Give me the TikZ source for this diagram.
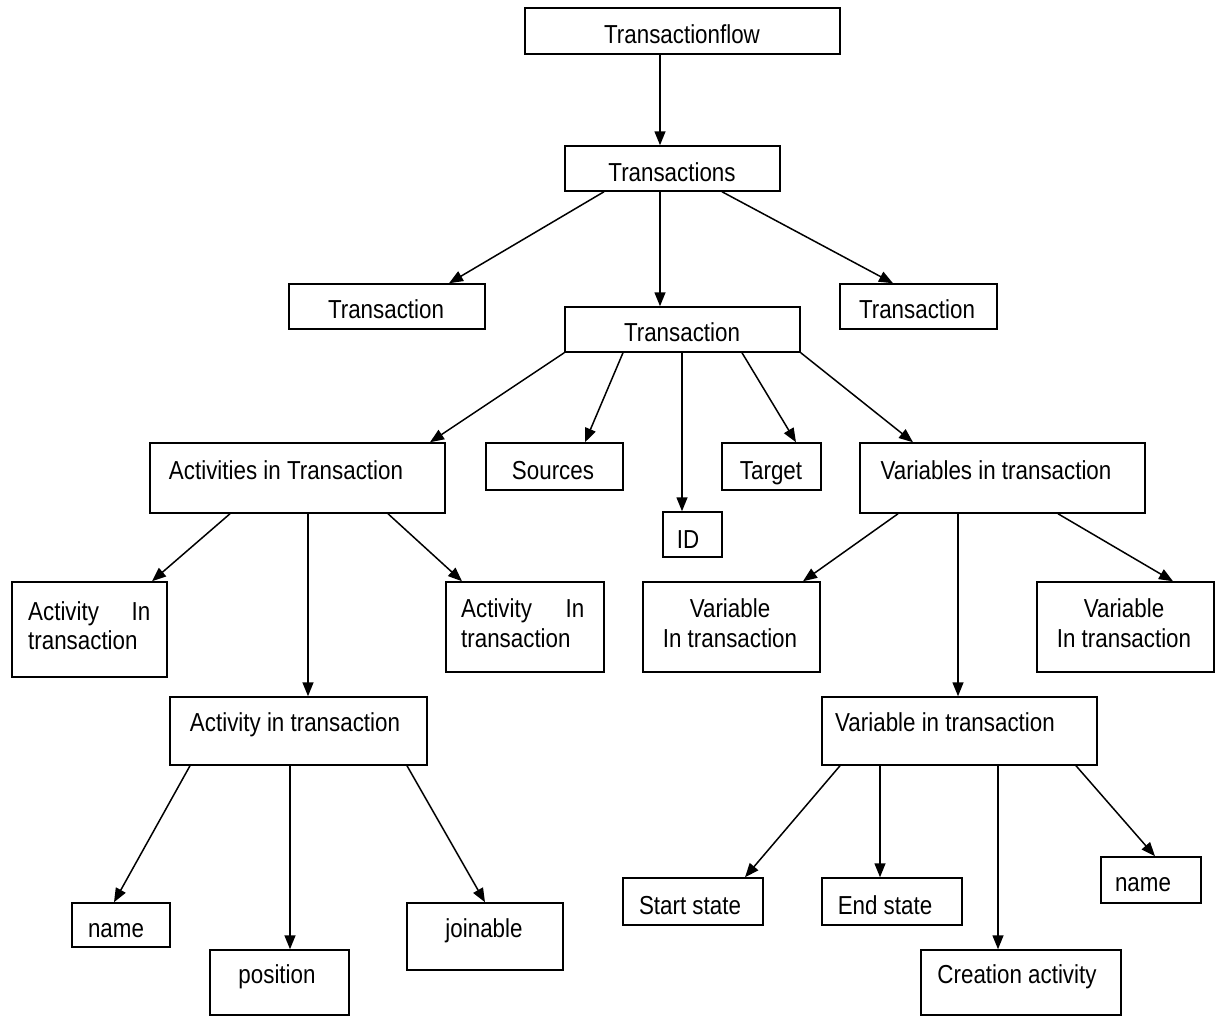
\documentclass[tikz,border=0pt]{standalone}
\usepackage{fontspec}
\newfontfamily\lblfamily[FakeStretch=0.86]{Liberation Sans}
\usetikzlibrary{arrows.meta}
\begin{document}
\begin{tikzpicture}[x=1pt,y=-1pt,
  box/.style={draw, line width=1.5pt, rectangle, inner sep=0pt},
  lbl/.style={inner sep=0pt, anchor=base, font=\lblfamily\fontsize{26}{30}\selectfont},
  lblw/.style={lbl, anchor=base west},
  arr/.style={line width=1.5pt, -{Triangle[length=14pt,width=11pt]}}]
\useasboundingbox[fill=white] (0,0) rectangle (1220,1017);

% boxes: centre, width, height
\newcommand{\bx}[5]{\node[box, minimum width=#4, minimum height=#5] (#1) at (#2,#3) {};}
\bx{tf}{682.5}{31}{315}{46}
\bx{ts}{672.5}{168.5}{215}{45}
\bx{tl}{387}{306.5}{196}{45}
\bx{tm}{682.5}{329.5}{235}{45}
\bx{tr}{918.5}{306.5}{157}{45}
\bx{act}{297.5}{478}{295}{70}
\bx{src}{554.5}{466.5}{137}{47}
\bx{id}{692.5}{534.5}{59}{45}
\bx{tgt}{771.5}{466.5}{99}{47}
\bx{var}{1002.5}{478}{285}{70}
\bx{al}{89.5}{629.5}{155}{95}
\bx{ar}{525}{627}{158}{90}
\bx{vl}{731.5}{627}{177}{90}
\bx{vr}{1125.5}{627}{177}{90}
\bx{ait}{298.5}{731}{257}{68}
\bx{vit}{959.5}{731}{275}{68}
\bx{nl}{121}{925}{98}{44}
\bx{pos}{279.5}{982.5}{139}{65}
\bx{join}{485}{936.5}{156}{67}
\bx{ss}{693}{901.5}{140}{47}
\bx{es}{892}{901.5}{140}{47}
\bx{ca}{1021}{982.5}{200}{65}
\bx{nr}{1151}{880}{100}{46}

% labels
\node[lbl] (tfT) at (682,43) {Transactionflow};
\node[lbl] (tsT) at (672,181) {Transactions};
\node[lbl] (tlT) at (386,318) {Transaction};
\node[lbl] (tmT) at (682,341) {Transaction};
\node[lbl] (trT) at (917,318) {Transaction};
\node[lbl] (actT) at (286,479) {Activities in Transaction};
\node[lbl] (srcT) at (553,479) {Sources};
\node[lbl] (idT) at (688,548) {ID};
\node[lbl] (tgtT) at (771,479) {Target};
\node[lbl] (varT) at (996,479) {Variables in transaction};
\node[lblw] (alT1) at (28,620) {\makebox[122pt][s]{Activity In}};
\node[lblw] (alT2) at (28,649) {transaction};
\node[lblw] (arT1) at (461,617) {\makebox[123pt][s]{Activity In}};
\node[lblw] (arT2) at (461,647) {transaction};
\node[lbl] (vlT1) at (730,617) {Variable};
\node[lbl] (vlT2) at (730,647) {In transaction};
\node[lbl] (vrT1) at (1124,617) {Variable};
\node[lbl] (vrT2) at (1124,647) {In transaction};
\node[lbl] (aitT) at (295,731) {Activity in transaction};
\node[lbl] (vitT) at (945,731) {Variable in transaction};
\node[lbl] (nlT) at (116,937) {name};
\node[lbl] (posT) at (277,983) {position};
\node[lbl] (joinT) at (484,937) {joinable};
\node[lbl] (ssT) at (690,914) {Start state};
\node[lbl] (esT) at (885,914) {End state};
\node[lbl] (caT) at (1017,983) {Creation activity};
\node[lbl] (nrT) at (1143,891) {name};

% connectors
\draw[arr] ([xshift=-22.5]tf.south) -- ([xshift=-12.5]ts.north);
\draw[arr] ([xshift=-68.5]ts.south) -- ([xshift=62]tl.north);
\draw[arr] ([xshift=-12.5]ts.south) -- ([xshift=-22.5]tm.north);
\draw[arr] ([xshift=49.5]ts.south) -- ([xshift=-25.5]tr.north);
\draw[arr] (tm.south west) -- ([xshift=132.5]act.north);
\draw[arr] ([xshift=-59.5]tm.south) -- ([xshift=30.5]src.north);
\draw[arr] ([xshift=-0.5]tm.south) -- ([xshift=-10.5]id.north);
\draw[arr] ([xshift=59.5]tm.south) -- ([xshift=24.5]tgt.north);
\draw[arr] (tm.south east) -- ([xshift=-89.5]var.north);
\draw[arr] ([xshift=-67.5]act.south) -- ([xshift=62.5]al.north);
\draw[arr] ([xshift=10.5]act.south) -- ([xshift=9.5]ait.north);
\draw[arr] ([xshift=90.5]act.south) -- ([xshift=-63]ar.north);
\draw[arr] ([xshift=-104.5]var.south) -- ([xshift=71.5]vl.north);
\draw[arr] ([xshift=-44.5]var.south) -- ([xshift=-1.5]vit.north);
\draw[arr] ([xshift=55.5]var.south) -- ([xshift=47.5]vr.north);
\draw[arr] ([xshift=-108.5]ait.south) -- ([xshift=-7]nl.north);
\draw[arr] ([xshift=-8.5]ait.south) -- ([xshift=10.5]pos.north);
\draw[arr] ([xshift=108.5]ait.south) -- ([xshift=0]join.north);
\draw[arr] ([xshift=-119.5]vit.south) -- ([xshift=52]ss.north);
\draw[arr] ([xshift=-79.5]vit.south) -- ([xshift=-12]es.north);
\draw[arr] ([xshift=38.5]vit.south) -- ([xshift=-23]ca.north);
\draw[arr] ([xshift=116.5]vit.south) -- ([xshift=4]nr.north);
\end{tikzpicture}
\end{document}
